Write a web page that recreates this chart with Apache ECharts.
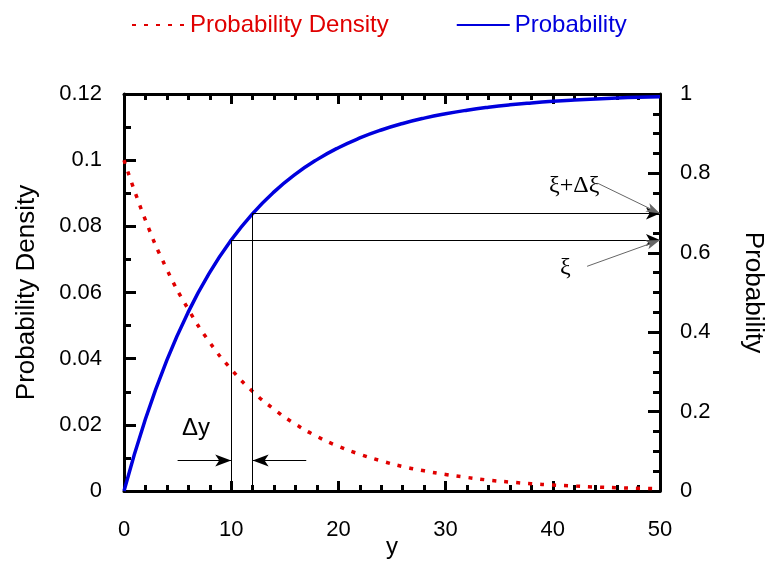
<!DOCTYPE html>
<html>
<head>
<meta charset="utf-8">
<script src="https://cdn.jsdelivr.net/npm/echarts@6/dist/echarts.min.js"></script>
<style>html,body{margin:0;padding:0;background:#fff}#c{width:769px;height:566px}</style>
</head>
<body>
<div id="c"></div>
<script>
// y values (step 2)
const yValues = [0,2,4,6,8,10,12,14,16,18,20,22,24,26,28,30,32,34,36,38,40,42,44,46,48,50];
// probability density
const densityValues = [0.1,0.0819,0.0670,0.0549,0.0449,0.0368,0.0301,0.0247,0.0202,0.0165,0.0135,0.0111,0.0091,0.0074,0.0061,0.0050,0.0041,0.0033,0.0027,0.0022,0.0018,0.0015,0.0012,0.0010,0.0008,0.0007];
// cumulative probability
const probabilityValues = [0,0.1813,0.3297,0.4512,0.5507,0.6321,0.6988,0.7534,0.7981,0.8347,0.8647,0.8892,0.9093,0.9257,0.9392,0.9502,0.9592,0.9666,0.9727,0.9776,0.9817,0.9850,0.9877,0.9899,0.9918,0.9933];
// annotation values
const markY = [10, 12];
const markXi = [0.632, 0.699];
const dyArrowLevel = 0.0092;      // on density axis
const dyArrowStarts = [5, 17];
const xiArrowStarts = [[43.2, 0.566], [44.2, 0.775]];
const seriesNames = ['Probability Density', 'Probability'];

const FONT = 'Liberation Sans, Arial, sans-serif';
const chart = echarts.init(document.getElementById('c'));

const pairs = (a, b) => a.map((v, i) => [v, b[i]]);
const thin = {color: '#000', width: 1, type: 'solid'};

const markLinesProb = [
  [{coord: [markY[0], 0], symbol: 'none'}, {coord: [markY[0], markXi[0]], symbol: 'none'}],
  [{coord: [markY[1], 0], symbol: 'none'}, {coord: [markY[1], markXi[1]], symbol: 'none'}],
  [{coord: [markY[0], markXi[0]], symbol: 'none'}, {coord: [50, markXi[0]], symbol: 'arrow', symbolSize: [9, 14]}],
  [{coord: [markY[1], markXi[1]], symbol: 'none'}, {coord: [50, markXi[1]], symbol: 'arrow', symbolSize: [9, 14]}],
  [{coord: xiArrowStarts[0], symbol: 'none', lineStyle: {color: '#666'}}, {coord: [50, markXi[0]], symbol: 'arrow', symbolSize: [7, 14]}],
  [{coord: xiArrowStarts[1], symbol: 'none', lineStyle: {color: '#666'}}, {coord: [50, markXi[1]], symbol: 'arrow', symbolSize: [7, 14]}]
];
const markLinesDens = [
  [{coord: [dyArrowStarts[0], dyArrowLevel], symbol: 'none'}, {coord: [markY[0], dyArrowLevel], symbol: 'arrow', symbolSize: [9, 16]}],
  [{coord: [dyArrowStarts[1], dyArrowLevel], symbol: 'none'}, {coord: [markY[1], dyArrowLevel], symbol: 'arrow', symbolSize: [9, 16]}]
];

const commonTickX = {
  type: 'value', min: 0, max: 50, interval: 10,
  axisLine: {show: true, onZero: false, lineStyle: {color: '#000', width: 3}},
  axisTick: {show: true, inside: true, length: 10, lineStyle: {color: '#000', width: 3}},
  minorTick: {show: true, splitNumber: 5, length: 6, lineStyle: {color: '#000', width: 3}},
  splitLine: {show: false}
};

chart.setOption({
  animation: false,
  backgroundColor: '#fff',
  textStyle: {fontFamily: FONT},
  legend: {
    top: 8, left: 126, itemGap: 67, itemWidth: 53, itemHeight: 14,
    itemStyle: {opacity: 0},
    textStyle: {fontSize: 24, fontFamily: FONT},
    data: [
      {name: seriesNames[0], textStyle: {color: '#e00000'}},
      {name: seriesNames[1], textStyle: {color: '#0000dd'}}
    ]
  },
  grid: {left: 124, right: 109, top: 94, bottom: 75, outerBoundsMode: 'none', containLabel: false},
  xAxis: [
    Object.assign({}, commonTickX, {
      position: 'bottom',
      name: 'y', nameLocation: 'middle', nameGap: 44, nameMoveOverlap: false,
      nameTextStyle: {fontSize: 24, color: '#000', fontFamily: FONT},
      axisLabel: {fontSize: 22, color: '#000', margin: 28, fontFamily: FONT}
    }),
    Object.assign({}, commonTickX, {
      position: 'top', axisLabel: {show: false}
    })
  ],
  yAxis: [
    {
      type: 'value', min: 0, max: 0.12, interval: 0.02, position: 'left',
      name: 'Probability Density', nameLocation: 'middle', nameGap: 84,
      nameTextStyle: {fontSize: 26, color: '#000', fontFamily: FONT},
      axisLine: {show: true, onZero: false, lineStyle: {color: '#000', width: 3}},
      axisTick: {show: true, inside: true, length: 12, lineStyle: {color: '#000', width: 3}},
      minorTick: {show: true, splitNumber: 2, length: 7, lineStyle: {color: '#000', width: 3}},
      splitLine: {show: false},
      axisLabel: {fontSize: 22, color: '#000', margin: 22, fontFamily: FONT}
    },
    {
      type: 'value', min: 0, max: 1, interval: 0.2, position: 'right',
      name: 'Probability', nameLocation: 'middle', nameGap: 80, nameRotate: -90,
      nameTextStyle: {fontSize: 26, color: '#000', fontFamily: FONT},
      axisLine: {show: true, onZero: false, lineStyle: {color: '#000', width: 3}},
      axisTick: {show: true, inside: true, length: 12, lineStyle: {color: '#000', width: 3}},
      minorTick: {show: true, splitNumber: 4, length: 7, lineStyle: {color: '#000', width: 3}},
      splitLine: {show: false},
      axisLabel: {fontSize: 22, color: '#000', margin: 20, fontFamily: FONT}
    }
  ],
  series: [
    {
      name: seriesNames[0], type: 'line', xAxisIndex: 0, yAxisIndex: 0,
      data: pairs(yValues, densityValues), smooth: true, symbol: 'none',
      lineStyle: {color: '#e00000', width: 3.5, type: [4, 8]},
      itemStyle: {color: '#e00000'},
      z: 3,
      markLine: {silent: true, animation: false, label: {show: false}, lineStyle: thin, data: markLinesDens}
    },
    {
      name: seriesNames[1], type: 'line', xAxisIndex: 0, yAxisIndex: 1,
      data: pairs(yValues, probabilityValues), smooth: true, symbol: 'none',
      lineStyle: {color: '#0000dd', width: 3.5},
      itemStyle: {color: '#0000dd'},
      z: 4,
      markLine: {silent: true, animation: false, label: {show: false}, lineStyle: thin, data: markLinesProb}
    }
  ],
  graphic: [
    {type: 'text', left: 182, top: 416, style: {text: 'Δy', fontSize: 24, fontFamily: FONT, fill: '#000'}},
    {type: 'text', left: 549, top: 174, style: {text: 'ξ+Δξ', fontSize: 24, fontFamily: 'Liberation Serif, Times New Roman, serif', fill: '#000'}},
    {type: 'text', left: 560, top: 256, style: {text: 'ξ', fontSize: 24, fontFamily: 'Liberation Serif, Times New Roman, serif', fill: '#000'}}
  ]
});
</script>
</body>
</html>
